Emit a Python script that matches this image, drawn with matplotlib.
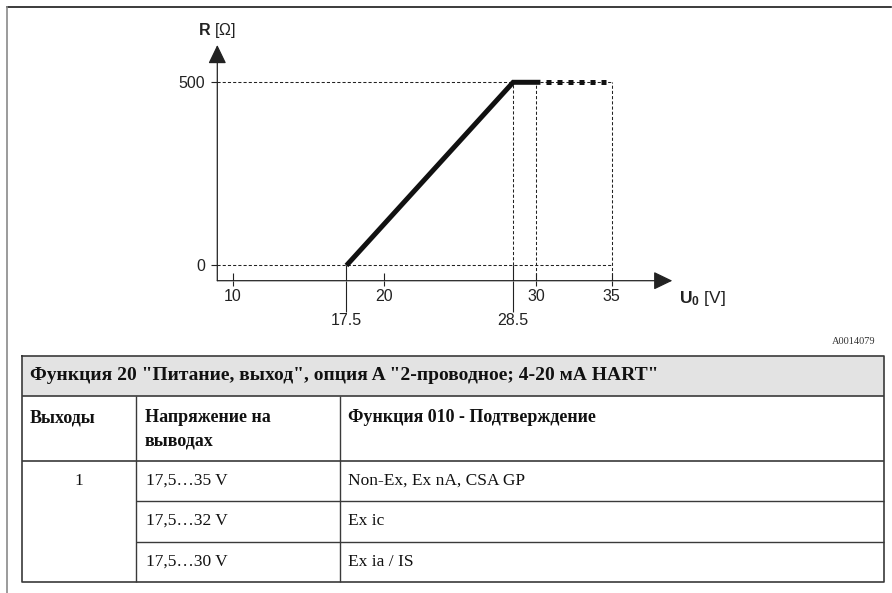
import matplotlib
matplotlib.use("Agg")
import matplotlib.pyplot as plt

plt.rcParams["font.family"] = ["Liberation Sans", "DejaVu Sans"]
plt.rcParams["mathtext.fontset"] = "custom"
plt.rcParams["mathtext.bf"] = "Liberation Sans:bold"
plt.rcParams["mathtext.rm"] = "Liberation Sans"

# Data

U_curve = [17.5, 28.5, 30.3]       # load line, solid part
R_curve = [0, 500, 500]
U_ext = [30.3, 35]                 # load line, dotted part
R_ext = [500, 500]

x_major = [10, 20, 30, 35]
x_marked = [17.5, 28.5]
y_ticks = [0, 500]
U_guides = [28.5, 30, 35]

table_title = 'Функция 20 "Питание, выход", опция A "2-проводное; 4-20 мА HART"'
col_heads = ["Выходы", "Напряжение на\nвыводах", "Функция 010 - Подтверждение"]
outputs = ["1"]
voltages = ["17,5…35 V", "17,5…32 V", "17,5…30 V"]
approvals = ["Non-Ex, Ex nA, CSA GP", "Ex ic", "Ex ia / IS"]
figure_id = "A0014079"

INK = "#222222"

# Figure

W, H = 892, 593
fig = plt.figure(figsize=(W / 100, H / 100), dpi=100)

page = fig.add_axes([0, 0, 1, 1])
page.set_xlim(0, W)
page.set_ylim(H, 0)
page.axis("off")

# page frame
page.plot([7, 891], [7, 7], color="#1a1a1a", lw=1.2)
page.plot([7, 7], [7, H], color="#8a8a8a", lw=1.2)

# Chart

ax = fig.add_axes([217.3 / W, 1 - 280.7 / H, (672.3 - 217.3) / W, (280.7 - 45) / H])
x0, x1 = 8.98, 39.0
y0, y1 = -41.5, 601.8
ax.set_xlim(x0, x1)
ax.set_ylim(y0, y1)
ax.patch.set_alpha(0)
for s in ax.spines.values():
    s.set_visible(False)

head = "-|>,head_length=0.58,head_width=0.28"
ax.annotate("", xy=(x1, y0), xytext=(x0, y0), annotation_clip=False,
            arrowprops=dict(arrowstyle=head, mutation_scale=20, lw=0.9,
                            color=INK, shrinkA=0, shrinkB=0))
ax.annotate("", xy=(x0, y1), xytext=(x0, y0), annotation_clip=False,
            arrowprops=dict(arrowstyle=head, mutation_scale=20, lw=0.9,
                            color=INK, shrinkA=0, shrinkB=0))

# guide lines
dash = (0, (3, 2))
ax.hlines(y_ticks, x0, 35, colors=INK, lw=0.75, linestyles=[dash])
ax.vlines(U_guides[0], 0, 500, colors=INK, lw=0.75, linestyles=[dash])
ax.vlines(U_guides[1:], y0, 500, colors=INK, lw=0.75, linestyles=[dash])
ax.vlines(x_marked, y0, 0, colors=INK, lw=0.8)
ax.vlines(x_major, y0, -20.5, colors=INK, lw=0.8)

# load line
ax.plot(U_curve, R_curve, color="#111111", lw=3.6,
        solid_capstyle="butt", solid_joinstyle="miter", clip_on=False)
ax.plot(U_ext, R_ext, color="#111111", lw=3.6,
        linestyle=(1, (1, 1.2)), dash_capstyle="butt", clip_on=False)

# ticks
ax.set_xticks(x_major, labels=[str(v) for v in x_major])
ax.set_xticks(x_marked, labels=[str(v) for v in x_marked], minor=True)
ax.set_yticks(y_ticks, labels=[str(v) for v in y_ticks])
ax.tick_params(axis="x", which="major", length=3.3, width=0.8, pad=3,
               color=INK, labelcolor=INK, labelsize=11.5)
ax.tick_params(axis="x", which="minor", length=22, width=0.8, pad=1,
               color=INK, labelcolor=INK, labelsize=11.5)
ax.tick_params(axis="y", length=4.5, width=0.8, pad=4,
               color=INK, labelcolor=INK, labelsize=11.5)

page.text(198, 31, r"$\mathbf{R}$ [Ω]", fontsize=11.5, color=INK,
          ha="left", va="center")
page.text(679, 303, r"$\mathbf{U_0}$ [V]", fontsize=12.5, color=INK,
          ha="left", va="baseline")

page.text(876, 341, figure_id, family="Liberation Serif", fontsize=7.5,
          color="#333333", ha="right", va="center")

# Table

tl, tr = 22, 884
t_top, t_head, t_cols, t_bot = 355.7, 396, 461, 581.7
c1, c2 = 136, 339.5
row_lines = [501, 541.7]
row_mid = [481, 521, 561.5]

page.fill_between([tl, tr], t_top, t_head, color="#e3e3e3", lw=0)
lc = "#3a3a3a"
page.plot([tl, tr, tr, tl, tl], [t_top, t_top, t_bot, t_bot, t_top], color=lc, lw=1.2)
page.hlines([t_head, t_cols], tl, tr, colors=lc, lw=1.2)
page.hlines(row_lines, c1, tr, colors=lc, lw=1.0)
page.vlines([c1, c2], t_head, t_bot, colors=lc, lw=1.0)

serif = "Liberation Serif"
page.text(30, 376, table_title, family=serif, weight="bold", fontsize=14,
          color="#111111", ha="left", va="center")
page.text(30, 418, col_heads[0], family=serif, weight="bold", fontsize=13,
          color="#111111", ha="left", va="center")
hl1, hl2 = col_heads[1].split("\n")
page.text(145, 418, hl1, family=serif, weight="bold", fontsize=13,
          color="#111111", ha="left", va="center")
page.text(145, 441, hl2, family=serif, weight="bold", fontsize=13,
          color="#111111", ha="left", va="center")
page.text(348, 418, col_heads[2], family=serif, weight="bold", fontsize=13,
          color="#111111", ha="left", va="center")

page.text((tl + c1) / 2, row_mid[0], outputs[0], family=serif, fontsize=12.5,
          color="#111111", ha="center", va="center")
for y, v, a in zip(row_mid, voltages, approvals):
    page.text(146, y, v, family=serif, fontsize=12.5, color="#111111",
              ha="left", va="center")
    page.text(348, y, a, family=serif, fontsize=12.5, color="#111111",
              ha="left", va="center")

fig.savefig("out.png", dpi=100)
